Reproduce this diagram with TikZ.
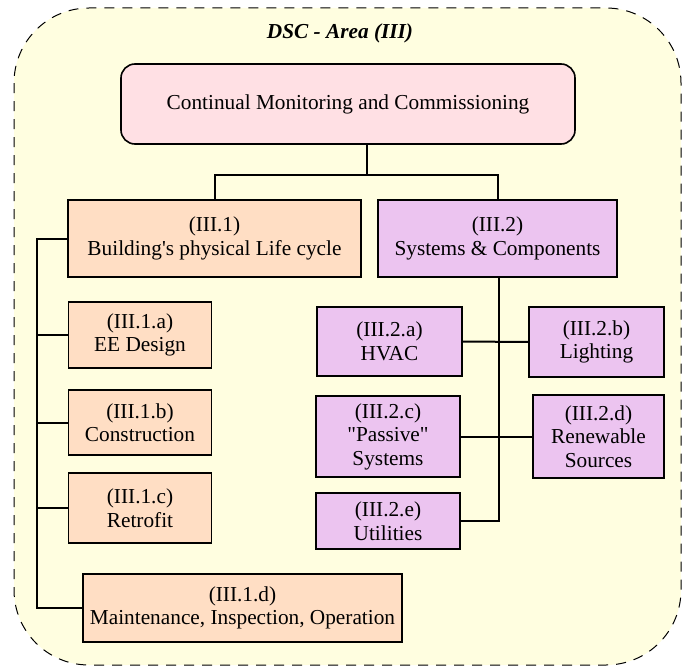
\documentclass[tikz,border=0pt]{standalone}
\usepackage{fontspec}
\setmainfont{Liberation Serif}[Ligatures=TeXOff]
\begin{document}
\begin{tikzpicture}[x=1bp,y=-1bp,
  font=\fontsize{21.3bp}{23.5bp}\selectfont,
  box/.style={draw=black, line width=1.6bp, align=center, inner sep=0pt,
    minimum width=#1},
  lifebox/.style={box=#1, fill=lifefill},
  sysbox/.style={box=#1, fill=sysfill},
  link/.style={draw=black, line width=2bp}]
\definecolor{areafill}{RGB}{255,254,224}
\definecolor{topfill}{RGB}{255,224,228}
\definecolor{lifefill}{RGB}{255,222,196}
\definecolor{sysfill}{RGB}{236,196,240}
\useasboundingbox (0,0) rectangle (688,669);

% outer dashed area
\draw[fill=areafill, line width=1bp, dash pattern=on 10bp off 8bp, rounded corners=75bp]
  (14,8) rectangle (681,665);
\node (title) at (340,33) {\bfseries\itshape DSC - Area (III)};

% top box
\node[box=454bp, minimum height=80bp, fill=topfill, rounded corners=14bp]
  (top) at (348,104) {Continual Monitoring and Commissioning};

% main branches
\node[lifebox=293bp, minimum height=77bp] (b1) at (214.5,238.5) {(III.1)\\Building's physical Life cycle};
\node[sysbox=239bp, minimum height=77bp] (b2) at (497.5,238.5) {(III.2)\\Systems \& Components};

% life cycle items
\node[lifebox=143bp, minimum height=66bp] (a1) at (140,335) {(III.1.a)\\EE Design};
\node[lifebox=143bp, minimum height=65bp] (a2) at (140,422.5) {(III.1.b)\\Construction};
\node[lifebox=143bp, minimum height=70bp] (a3) at (140,508) {(III.1.c)\\Retrofit};
\node[lifebox=319bp, minimum height=68bp] (a4) at (242.5,608) {(III.1.d)\\Maintenance, Inspection, Operation};

% system items
\node[sysbox=145bp, minimum height=69bp] (s1) at (389.5,341.5) {(III.2.a)\\HVAC};
\node[sysbox=135bp, minimum height=70bp] (s2) at (596.5,342) {(III.2.b)\\Lighting};
\node[sysbox=144bp, minimum height=81bp] (s3) at (388,436.5) {(III.2.c)\\"Passive"\\Systems};
\node[sysbox=131bp, minimum height=83bp] (s4) at (598.5,436.5) {(III.2.d)\\Renewable\\Sources};
\node[sysbox=144bp, minimum height=56bp] (s5) at (388,521) {(III.2.e)\\Utilities};

% connectors
\coordinate (j) at (367,175);
\coordinate (lspine) at (37,0);
\coordinate (rspine) at (499,0);
\draw[link] (top.south -| j) -- (j);
\draw[link] (b1.north) -- (b1.north |- j) -- (b2.north |- j) -- (b2.north);
\draw[link] (b1.west) -- (b1.west -| lspine) -- (a4.west -| lspine) -- (a4.west);
\draw[link] (a1.west) -- (a1.west -| lspine);
\draw[link] (a2.west) -- (a2.west -| lspine);
\draw[link] (a3.west) -- (a3.west -| lspine);
\draw[link] (b2.south -| rspine) -- (s5.east -| rspine) -- (s5.east);
\draw[link] (s1.east) -- (s2.west);
\draw[link] (s3.east) -- (s4.west);
\end{tikzpicture}
\end{document}
